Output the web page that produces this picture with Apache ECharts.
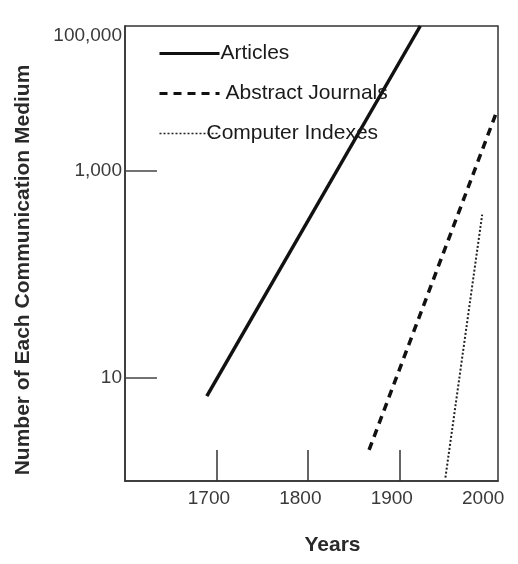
<!DOCTYPE html>
<html>
<head>
<meta charset="utf-8">
<script src="https://cdn.jsdelivr.net/npm/echarts@6/dist/echarts.min.js"></script>
<style>
html,body{margin:0;padding:0;background:#fff;}
#chart{width:518px;height:564px;}
</style>
</head>
<body>
<div id="chart"></div>
<script>
// ---- data ----
var seriesNames = ['Articles', 'Abstract Journals', 'Computer Indexes'];
var articles = [[1689.5, 6.6], [1923, 25000]];
var abstractJournals = [[1867, 2.0], [2006.5, 3700]];
var computerIndexes = [[1950.5, 1.08], [1990.7, 376]];
var xTickValues = [1700, 1800, 1900, 2000];
var xTickMarks = [1700, 1800, 1900];
var yTickValues = [10, 1000, 20000];
var yTickLabels = ['10', '1,000', '100,000'];
var yTickMarks = [10, 1000];
var xMin = 1600, xMax = 2008, yMin = 1, yMax = 25000;

var FONT = '"Liberation Sans", Arial, sans-serif';
var chart = echarts.init(document.getElementById('chart'), null, {renderer: 'canvas'});

function lbl(v) {
  for (var i = 0; i < yTickValues.length; i++) {
    if (Math.abs(v - yTickValues[i]) / yTickValues[i] < 1e-6) return yTickLabels[i];
  }
  return '';
}

var styles = [
  {color: '#111', width: 3.5, type: 'solid'},
  {color: '#111', width: 3.5, type: [8, 6]},
  {color: '#222', width: 2, type: [2, 2]}
];
var legendTextPad = [[0, 0, 0, -4], [0, 0, 0, 1], [0, 0, 0, -18]];

var option = {
  backgroundColor: '#fff',
  animation: false,
  grid: {left: 125, right: 20, top: 26, bottom: 83, show: true, borderColor: '#333', borderWidth: 1.5, backgroundColor: 'transparent'},
  legend: {
    orient: 'vertical', left: 153, top: 38,
    itemWidth: 60, itemHeight: 14, itemGap: 19,
    itemStyle: {opacity: 0},
    textStyle: {fontFamily: FONT, fontSize: 21, color: '#1a1a1a'},
    data: seriesNames.map(function (n, i) {
      return {name: n, itemStyle: {opacity: 0},
        textStyle: {fontFamily: FONT, fontSize: 21, color: '#1a1a1a', padding: legendTextPad[i]},
        lineStyle: {width: i === 2 ? 1.5 : 3, type: styles[i].type, color: styles[i].color}};
    })
  },
  xAxis: {
    type: 'value', min: xMin, max: xMax,
    name: 'Years', nameLocation: 'middle', nameGap: 54,
    nameTextStyle: {fontFamily: FONT, fontSize: 21, fontWeight: 'bold', color: '#2a2a2a', padding: [0, 0, 0, 42]},
    axisLine: {show: true, lineStyle: {color: '#333', width: 1.5}},
    axisTick: {show: true, inside: true, length: 31, customValues: xTickMarks, lineStyle: {color: '#333', width: 1.5}},
    axisLabel: {customValues: xTickValues, formatter: function (v) { return String(v); }, fontFamily: FONT, fontSize: 19, color: '#3a3a3a', margin: 8, padding: [0, 15, 0, 0]},
    splitLine: {show: false}
  },
  yAxis: {
    type: 'log', logBase: 10, min: yMin, max: yMax,
    name: 'Number of Each Communication Medium', nameLocation: 'middle', nameGap: 91,
    nameTextStyle: {fontFamily: FONT, fontSize: 21, fontWeight: 'bold', color: '#2a2a2a', padding: [0, 33, 0, 0]},
    axisLine: {show: true, lineStyle: {color: '#333', width: 1.5}},
    axisTick: {show: true, inside: true, length: 32, customValues: yTickMarks, lineStyle: {color: '#444', width: 1.5}},
    axisLabel: {customValues: yTickValues, formatter: function (v) { return lbl(v); }, fontFamily: FONT, fontSize: 19, color: '#3a3a3a', margin: 3},
    splitLine: {show: false}
  },
  series: [
    {name: seriesNames[0], type: 'line', data: articles, symbol: 'none', clip: true,
     lineStyle: styles[0], itemStyle: {color: styles[0].color}},
    {name: seriesNames[1], type: 'line', data: abstractJournals, symbol: 'none', clip: true,
     lineStyle: styles[1], itemStyle: {color: styles[1].color}},
    {name: seriesNames[2], type: 'line', data: computerIndexes, symbol: 'none', clip: true,
     lineStyle: styles[2], itemStyle: {color: styles[2].color}}
  ]
};
chart.setOption(option);
</script>
</body>
</html>
